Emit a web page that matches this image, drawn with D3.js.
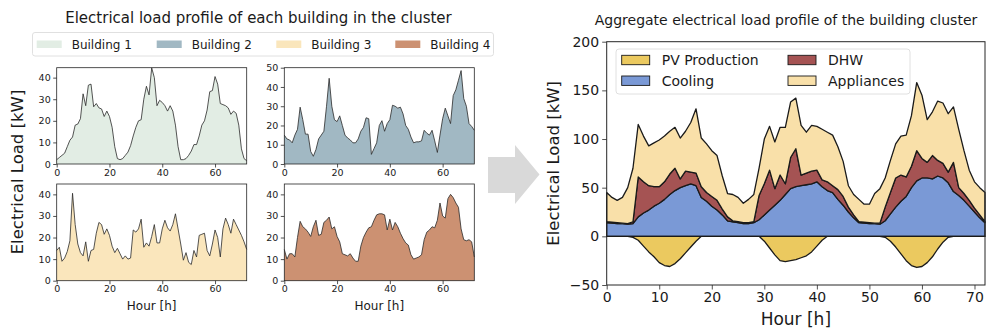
<!DOCTYPE html>
<html><head><meta charset="utf-8">
<script src="https://cdn.jsdelivr.net/npm/d3@7"></script>
<style>
body{margin:0;background:#fff}
svg{display:block}
text{font-family:"DejaVu Sans",sans-serif;fill:#1a1a1a}
</style>
</head><body>
<svg id="c" width="988" height="331"></svg>
<script>
// ---------------- data ----------------
const hours = d3.range(0, 73);
const building1 = [2,3,4,5,8,11,12.5,18,18.5,21,32.5,27,36.5,37,26.5,28,26,25.5,22,24.5,22,17,8,2.5,
  2,2.5,4,5.5,8.5,13,17,20,20.5,30,36,32,44.5,40,27,29.5,28.5,27,24.5,27,24.5,18,8,2,
  2,2.5,4,6,9,9,13,18,20,25,33.5,34,40.5,37,28,27.5,27,26,23,24.5,23.5,18,7,2.5,1.5];
const building2 = [15,13,12.5,11,15,18,29.5,23,15.5,15.5,6.5,4,7.5,13,15,17,30,44.5,30,23,22,25,20,15,
  13.5,12.5,11,11,13,17,19,24,23.5,5,8,11,20,22.5,17,21,23,30.5,30,29,29.5,26,20,18,
  14,11,11.5,11.5,12,17.5,16,15,17.5,12,6,15,23.5,29,25,21,35.5,38.5,43.5,48.5,34,30,21,19.5,17.5];
const building3 = [14,15.5,9,10.5,13.5,18.5,40.5,26,17,13,11.5,18,9,14,14.5,22,27,26,21.5,24,21,16,13,15,
  12.5,10,11.5,10,10.5,23.5,22.5,24,28.5,15.5,17.5,16,20.5,26,17.5,17.5,24,28,24.5,23,26,31,24,17,
  9.5,13,8.5,7.5,14,11,21,21.5,22,14,11.5,17,23.5,20,11,24,29,26,22,28.5,26,23.5,21,18,14.5];
const building4 = [14.5,10,12.5,12.5,11,20,27.5,25,24,22.5,20.5,25,28,21,21.5,27,28,29.5,24,25,20.5,18,12.5,12,
  11.5,12.5,10.5,9,9,16,20,22.5,24.5,25,28,30.5,31,31,30.5,23.5,28.5,23.5,27,25,22,19.5,17.5,16.5,
  12,10,10.5,11,12,19,22.5,23.5,25,24.5,28,36,30,29,38,40,38.5,36,34,24,19,18.5,19,18,11];

// aggregate (kW), individual layers
const cooling = [14,13.5,13,13,12.5,13,20,24,27,31,34,38,43,47,50,52,54,52,40,36,31,27,22,16,
  15,14,13,13,14,17,22,27,32,37,43,49,51,52,53,54,56,51,47,45,38,32,25,19,
  14,13.5,13,13,12.5,16,23,30,36,41,50,57,60,60,59,62,60,55,46,42,37,31,25,19,14];
const dhw = [1,1,1,0.5,0.5,2,41,32,25,20,17,18,21,23,9,15,12,13,11,9,10,10,6,4,
  1,1,1,1,1,25,32,41,17,26,11,32,39,11,12,13,12,7,9,7,10,9,5,3,
  1,1,1,0.5,1,14,22,30,27,20,22,31,20,16,24,16,15,11,30,8,7,6,4,3,1];
const appliances = [30,25.5,23,26.5,37,55,54,47,41,45,48,47,44,42,42,41,51,66,50,50,47,46,34,24,
  27,25,20,24,28,28,46,45,48,49,58,57,52,51,42,47,45,52,51,52,44,36,22,21,
  23,18.5,19,30.5,35.5,30,33,35,40,43,52,70,65,44,45,61,62,60,57,60,44,31,27,28,30];
const pv = [0,0,0,0,0,-1,-4,-10,-16,-21,-27,-30,-31,-28,-23,-17,-11,-5,0,0,0,0,0,0,
  0,0,0,0,0,0,-5,-12,-19,-25,-26,-25,-24,-22,-20,-16,-10,-4,0,0,0,0,0,0,
  0,0,0,0,0,-1,-5,-11,-18,-25,-30,-32,-31,-27,-21,-13,-6,-1,0,0,0,0,0,0,0];

const buildingNames = ["Building 1","Building 2","Building 3","Building 4"];
const buildingColors = ["#e2ede4","#a1b8c3","#fae6bc","#cc9172"];
const buildingSeries = [building1, building2, building3, building4];
const buildingYMax = [44.6, 50, 44.8, 44.8];
const buildingYTicks = [[0,10,20,30,40],[0,10,20,30,40,50],[0,10,20,30,40],[0,10,20,30,40]];
const smallXTicks = [0,20,40,60];

const layerKeys = ["cooling","dhw","appliances"];
const layerColors = {cooling:"#7a99d6", dhw:"#a55353", appliances:"#f9e0a9", pv:"#ebc95f"};
const legendItems = [
  {name:"PV Production", key:"pv"},
  {name:"DHW", key:"dhw"},
  {name:"Cooling", key:"cooling"},
  {name:"Appliances", key:"appliances"}
];
const bigYTicks = [-50,0,50,100,150,200];
const bigXTicks = [0,10,20,30,40,50,60,70];

// ---------------- drawing ----------------
const svg = d3.select("#c");
const axisColor = "#262626";

function styleAxis(g, fs){
  g.select(".domain").remove();
  g.selectAll(".tick line").attr("stroke", axisColor).attr("stroke-width", 0.8);
  g.selectAll(".tick text").attr("font-size", fs).attr("fill", "#1a1a1a")
    .attr("font-family", '"DejaVu Sans",sans-serif');
}

// Left title
svg.append("text").attr("x", 258.5).attr("y", 22.5).attr("text-anchor","middle")
  .attr("font-size", 15).text("Electrical load profile of each building in the cluster");

// left legend
const lg = svg.append("g");
lg.append("rect").attr("x", 32.5).attr("y", 32.5).attr("width", 461).attr("height", 23.5)
  .attr("rx", 2.5).attr("fill","#fff").attr("stroke","#d8d8d8").attr("stroke-width",0.8);
const lgX = [36.7, 156.7, 276.3, 395.3];
buildingNames.forEach((n,i)=>{
  lg.append("rect").attr("x", lgX[i]).attr("y", 40.5).attr("width", 25).attr("height", 7.5)
    .attr("fill", buildingColors[i]);
  lg.append("text").attr("x", lgX[i]+35).attr("y", 48.6).attr("font-size", 12).text(n);
});

// small panels
const panels = [
  {x0:56.7, x1:246.7, y0:67.7, y1:164},
  {x0:284.3, x1:474.3, y0:67.7, y1:164},
  {x0:56.7, x1:246.7, y0:184, y1:280.7},
  {x0:284.3, x1:474.3, y0:184, y1:280.7}
];
panels.forEach((p,i)=>{
  const xs = d3.scaleLinear().domain([0,72]).range([p.x0,p.x1]);
  const ys = d3.scaleLinear().domain([0,buildingYMax[i]]).range([p.y1,p.y0]);
  const g = svg.append("g");
  const data = buildingSeries[i];
  const area = d3.area().x((d,j)=>xs(hours[j])).y0(ys(0)).y1(d=>ys(d));
  const line = d3.line().x((d,j)=>xs(hours[j])).y(d=>ys(d));
  g.append("path").attr("d", area(data)).attr("fill", buildingColors[i]);
  g.append("path").attr("d", line(data)).attr("fill","none").attr("stroke","#2a2a2a").attr("stroke-width",0.8);
  g.append("rect").attr("x",p.x0).attr("y",p.y0).attr("width",p.x1-p.x0).attr("height",p.y1-p.y0)
    .attr("fill","none").attr("stroke",axisColor).attr("stroke-width",0.8);
  const ax = g.append("g").attr("transform",`translate(0,${p.y1})`)
    .call(d3.axisBottom(xs).tickValues(smallXTicks).tickSize(3.5).tickPadding(1.5));
  styleAxis(ax, 9.5);
  const ay = g.append("g").attr("transform",`translate(${p.x0},0)`)
    .call(d3.axisLeft(ys).tickValues(buildingYTicks[i]).tickSize(3.5).tickPadding(2.5));
  styleAxis(ay, 9.5);
  if (i >= 2) {
    g.append("text").attr("x",(p.x0+p.x1)/2).attr("y",309.5).attr("text-anchor","middle")
      .attr("font-size", 12).text("Hour [h]");
  }
});
svg.append("text").attr("transform","translate(23,172) rotate(-90)").attr("text-anchor","middle")
  .attr("font-size", 16.5).text("Electrical Load [kW]");

// arrow
svg.append("polygon")
  .attr("points","488,157 515,157 515,145 539.5,174.5 515,204 515,193 488,193")
  .attr("fill","#d9d9d9");

// right chart
const R = {x0:606.7, x1:985, y0:41.7, y1:285};
const X = d3.scaleLinear().domain([0,72]).range([R.x0,R.x1]);
const Y = d3.scaleLinear().domain([-50,200]).range([R.y1,R.y0]);

svg.append("text").attr("x", 786).attr("y", 25).attr("text-anchor","middle")
  .attr("font-size", 14).text("Aggregate electrical load profile of the building cluster");

const rows = hours.map((h,j)=>({hour:h, cooling:cooling[j], dhw:dhw[j], appliances:appliances[j], pv:pv[j]}));
const stacked = d3.stack().keys(layerKeys)(rows);
const rg = svg.append("g");
const sArea = d3.area().x(d=>X(d.data.hour)).y0(d=>Y(d[0])).y1(d=>Y(d[1]));
stacked.forEach(s=>{
  rg.append("path").attr("d", sArea(s)).attr("fill", layerColors[s.key])
    .attr("stroke","#1a1a1a").attr("stroke-width",1.3).attr("stroke-linejoin","round");
});
const pvArea = d3.area().x(d=>X(d.hour)).y0(Y(0)).y1(d=>Y(d.pv));
rg.append("path").attr("d", pvArea(rows)).attr("fill", layerColors.pv)
  .attr("stroke","#1a1a1a").attr("stroke-width",1.3).attr("stroke-linejoin","round");

rg.append("rect").attr("x",R.x0).attr("y",R.y0).attr("width",R.x1-R.x0).attr("height",R.y1-R.y0)
  .attr("fill","none").attr("stroke",axisColor).attr("stroke-width",1);
const bx = rg.append("g").attr("transform",`translate(0,${R.y1})`)
  .call(d3.axisBottom(X).tickValues(bigXTicks).tickSize(4.5).tickPadding(3));
styleAxis(bx, 14);
const by = rg.append("g").attr("transform",`translate(${R.x0},0)`)
  .call(d3.axisLeft(Y).tickValues(bigYTicks).tickFormat(d=> d<0 ? "\u2212"+Math.abs(d) : d).tickSize(4.5).tickPadding(3));
styleAxis(by, 14);
svg.append("text").attr("x",(R.x0+R.x1)/2).attr("y",325).attr("text-anchor","middle")
  .attr("font-size",17).text("Hour [h]");
svg.append("text").attr("transform",`translate(559,${(R.y0+R.y1)/2}) rotate(-90)`).attr("text-anchor","middle")
  .attr("font-size",16.5).text("Electrical Load [kW]");

// right legend
const rl = svg.append("g");
rl.append("rect").attr("x",616).attr("y",49).attr("width",294).attr("height",45).attr("rx",3)
  .attr("fill","#fff").attr("fill-opacity",0.8).attr("stroke","#d8d8d8").attr("stroke-width",0.8);
const colX = [621.7, 788];
const rowY = [60, 80.7];
legendItems.forEach((it,i)=>{
  const cx = colX[i%2], cy = rowY[Math.floor(i/2)];
  rl.append("rect").attr("x",cx).attr("y",cy-4.7).attr("width",28).attr("height",9.4)
    .attr("fill",layerColors[it.key]).attr("stroke","#1a1a1a").attr("stroke-width",0.9);
  rl.append("text").attr("x",cx+40).attr("y",cy+5).attr("font-size",14).text(it.name);
});
</script>
</body></html>
